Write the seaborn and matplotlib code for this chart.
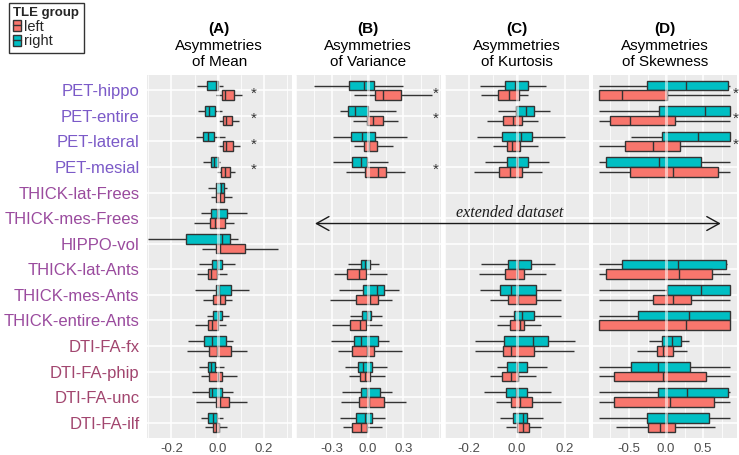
import numpy as np
import pandas as pd
import matplotlib
matplotlib.use("Agg")
import matplotlib.pyplot as plt
import seaborn as sns
from matplotlib.patches import Patch, ConnectionPatch
from matplotlib.lines import Line2D
from matplotlib.ticker import MultipleLocator, FixedLocator

# ---------------- data ----------------
CATEGORIES = ["PET-hippo", "PET-entire", "PET-lateral", "PET-mesial",
              "THICK-lat-Frees", "THICK-mes-Frees", "HIPPO-vol",
              "THICK-lat-Ants", "THICK-mes-Ants", "THICK-entire-Ants",
              "DTI-FA-fx", "DTI-FA-phip", "DTI-FA-unc", "DTI-FA-ilf"]
LABEL_COLORS = ["#7B5AC8"] * 4 + ["#9A4B9E"] * 6 + ["#A2466F"] * 4
GROUPS = ["left", "right"]
GROUP_COLORS = {"left": "#F8766D", "right": "#00BFC4"}
PANEL_LETTERS = ["(A)", "(B)", "(C)", "(D)"]
PANEL_TITLES = ["Asymmetries\nof Mean", "Asymmetries\nof Variance",
                "Asymmetries\nof Kurtosis", "Asymmetries\nof Skewness"]

# five-number summaries per box: (min, q1, median, q3, max)
MEAN_RIGHT = [(-0.088, -0.045, -0.007, 0.000, 0.022), (-0.084, -0.054, -0.036, -0.010, 0.017),
              (-0.095, -0.062, -0.041, -0.017, 0.033), (-0.065, -0.030, -0.016, 0.000, 0.010),
              (-0.042, -0.006, 0.013, 0.029, 0.039), (-0.074, -0.028, -0.002, 0.039, 0.128),
              (-0.300, -0.136, 0.019, 0.053, 0.087), (-0.081, -0.023, -0.004, 0.017, 0.074),
              (-0.100, -0.007, 0.007, 0.059, 0.136), (-0.048, -0.020, 0.000, 0.020, 0.048),
              (-0.130, -0.058, -0.023, 0.037, 0.065), (-0.080, -0.043, -0.028, -0.010, 0.026),
              (-0.110, -0.038, -0.023, 0.017, 0.068), (-0.071, -0.041, -0.022, -0.003, 0.023)]
MEAN_LEFT = [(-0.009, 0.017, 0.032, 0.072, 0.106), (0.007, 0.023, 0.036, 0.062, 0.092),
             (0.001, 0.022, 0.037, 0.068, 0.098), (-0.004, 0.016, 0.033, 0.052, 0.074),
             (-0.029, -0.007, 0.010, 0.026, 0.061), (-0.101, -0.035, -0.012, 0.033, 0.072),
             (-0.067, -0.009, 0.010, 0.119, 0.262), (-0.088, -0.043, -0.030, -0.002, 0.039),
             (-0.064, -0.019, 0.010, 0.030, 0.062), (-0.098, -0.042, -0.023, 0.001, 0.035),
             (-0.133, -0.039, -0.002, 0.056, 0.126), (-0.072, -0.036, 0.001, 0.017, 0.084),
             (-0.094, -0.009, 0.009, 0.050, 0.126), (-0.054, -0.019, -0.006, 0.007, 0.040)]
VAR_RIGHT = [(-0.451, -0.155, -0.029, 0.053, 0.294), (-0.233, -0.163, -0.107, 0.000, 0.238),
             (-0.294, -0.138, -0.050, 0.064, 0.328), (-0.289, -0.129, -0.054, -0.003, 0.168),
             None, None, None,
             (-0.163, -0.059, -0.020, 0.019, 0.095), (-0.239, -0.039, 0.081, 0.134, 0.263),
             (-0.146, -0.048, -0.008, 0.030, 0.123), (-0.311, -0.118, -0.054, 0.089, 0.179),
             (-0.188, -0.079, -0.037, 0.039, 0.162), (-0.218, -0.056, -0.008, 0.106, 0.202),
             (-0.233, -0.098, -0.023, 0.039, 0.143)]
VAR_LEFT = [(-0.113, 0.064, 0.126, 0.277, 0.543), (-0.121, -0.006, 0.047, 0.126, 0.255),
            (-0.113, -0.031, 0.013, 0.081, 0.215), (-0.182, -0.020, 0.089, 0.154, 0.311),
            None, None, None,
            (-0.281, -0.171, -0.071, -0.014, 0.160), (-0.317, -0.096, 0.017, 0.084, 0.204),
            (-0.303, -0.149, -0.062, -0.012, 0.123), (-0.247, -0.129, -0.008, 0.050, 0.288),
            (-0.155, -0.065, -0.023, 0.019, 0.145), (-0.224, -0.073, 0.013, 0.140, 0.322),
            (-0.205, -0.132, -0.054, -0.008, 0.118)]
KURT_RIGHT = [(-0.154, -0.049, -0.007, 0.046, 0.123), (-0.077, -0.003, 0.038, 0.074, 0.140),
              (-0.166, -0.060, 0.017, 0.063, 0.203), (-0.133, -0.042, 0.000, 0.046, 0.134),
              None, None, None,
              (-0.151, -0.037, 0.005, 0.060, 0.158), (-0.154, -0.070, -0.023, 0.080, 0.185),
              (-0.074, -0.011, 0.024, 0.071, 0.185), (-0.175, -0.052, 0.067, 0.131, 0.242),
              (-0.084, -0.039, 0.000, 0.042, 0.126), (-0.136, -0.045, -0.003, 0.042, 0.144),
              (-0.070, -0.014, 0.025, 0.042, 0.109)]
KURT_LEFT = [(-0.151, -0.077, -0.031, 0.008, 0.049), (-0.126, -0.059, -0.017, 0.024, 0.088),
             (-0.098, -0.039, -0.018, 0.015, 0.088), (-0.178, -0.074, -0.028, 0.021, 0.105),
             None, None, None,
             (-0.157, -0.049, 0.000, 0.032, 0.123), (-0.112, -0.037, 0.007, 0.080, 0.186),
             (-0.084, -0.029, 0.014, 0.032, 0.101), (-0.175, -0.056, -0.023, 0.071, 0.238),
             (-0.112, -0.060, -0.025, 0.007, 0.081), (-0.087, -0.025, 0.014, 0.063, 0.185),
             (-0.045, 0.003, 0.025, 0.053, 0.101)]
SKEW_RIGHT = [(-0.90, -0.253, 0.266, 0.842, 0.86), (-0.90, -0.090, 0.523, 0.87, 0.87),
              (-0.477, -0.059, 0.437, 0.87, 0.87), (-0.90, -0.815, -0.090, 0.477, 0.87),
              None, None, None,
              (-0.90, -0.599, 0.158, 0.811, 0.82), (-0.90, 0.018, 0.469, 0.87, 0.87),
              (-0.90, -0.383, 0.315, 0.87, 0.87), (-0.225, -0.050, 0.077, 0.198, 0.306),
              (-0.90, -0.477, -0.104, 0.324, 0.87), (-0.90, -0.104, 0.288, 0.842, 0.87),
              (-0.90, -0.253, 0.009, 0.577, 0.87)]
SKEW_LEFT = [(-0.90, -0.90, -0.590, 0.018, 0.87), (-0.90, -0.757, -0.486, 0.122, 0.87),
             (-0.90, -0.559, -0.171, 0.189, 0.87), (-0.90, -0.486, 0.099, 0.698, 0.87),
             None, None, None,
             (-0.90, -0.815, 0.180, 0.617, 0.87), (-0.90, -0.180, 0.099, 0.333, 0.87),
             (-0.90, -0.90, 0.270, 0.87, 0.87), (-0.387, -0.126, -0.036, 0.090, 0.279),
             (-0.90, -0.698, -0.036, 0.541, 0.87), (-0.90, -0.703, 0.054, 0.649, 0.87),
             (-0.676, -0.239, -0.081, 0.122, 0.662)]

PANEL_DATA = [(MEAN_LEFT, MEAN_RIGHT), (VAR_LEFT, VAR_RIGHT),
              (KURT_LEFT, KURT_RIGHT), (SKEW_LEFT, SKEW_RIGHT)]
XTICKS = [[-0.2, 0.0, 0.2], [-0.3, 0.0, 0.3], [-0.2, 0.0, 0.2], [-0.5, 0.0, 0.5]]
XTICK_LABELS = [["-0.2", "0.0", "0.2"], ["-0.3", "0.0", "0.3"],
                ["-0.2", "0.0", "0.2"], ["-0.5", "0.0", "0.5"]]
XLIMS = [(-0.308, 0.322), (-0.603, 0.612), (-0.300, 0.300), (-0.993, 0.959)]
# significant rows (asterisks) per panel
STAR_ROWS = [["PET-hippo", "PET-entire", "PET-lateral", "PET-mesial"],
             ["PET-hippo", "PET-entire", "PET-mesial"],
             [],
             ["PET-hippo", "PET-entire", "PET-lateral"]]
STAR_X = [0.158, 0.569, None, 0.936]

# ---------------- style ----------------
sns.set_theme(style="darkgrid")
plt.rcParams["font.family"] = ["Liberation Sans", "DejaVu Sans"]

W, H = 739, 455
fig = plt.figure(figsize=(W / 100, H / 100), dpi=100)
fig.patch.set_facecolor("white")

PANEL_X = [(146.5, 292.0), (296.0, 440.5), (445.0, 588.5), (592.5, 737.0)]
TOP, BOT = 75.0, 438.0

axes = []
for p, ((x0, x1), (left, right)) in enumerate(zip(PANEL_X, PANEL_DATA)):
    ax = fig.add_axes([x0 / W, (H - BOT) / H, (x1 - x0) / W, (BOT - TOP) / H])
    axes.append(ax)
    recs = []
    for cat, sl, sr in zip(CATEGORIES, left, right):
        for grp, s in (("left", sl), ("right", sr)):
            if s is None:
                continue
            for v in s:
                recs.append({"measure": cat, "group": grp, "value": v})
    df = pd.DataFrame(recs)
    sns.boxplot(data=df, x="value", y="measure", hue="group", order=CATEGORIES,
                hue_order=["right", "left"], palette=GROUP_COLORS, orient="h",
                whis=(0, 100), width=0.75, gap=0, showcaps=False,
                linecolor="#333333", linewidth=1.0, saturation=1, fliersize=0,
                legend=False, ax=ax)
    ax.set_facecolor("#EBEBEB")
    for s in ax.spines.values():
        s.set_visible(False)
    ax.set_xlim(*XLIMS[p])
    ax.set_ylim(len(CATEGORIES) - 0.4, -0.6)
    ax.xaxis.set_major_locator(FixedLocator(XTICKS[p]))
    ax.set_xticklabels(XTICK_LABELS[p])
    step = XTICKS[p][1] - XTICKS[p][0]
    ax.xaxis.set_minor_locator(MultipleLocator(step / 2))
    ax.set_axisbelow(True)
    ax.grid(True, which="major", axis="both", color="white", lw=1.1)
    ax.grid(True, which="minor", axis="x", color="white", lw=0.55)
    ax.axvline(0, color="white", lw=2.2, alpha=0.55, zorder=6)
    ax.set_xlabel("")
    ax.set_ylabel("")
    ax.tick_params(axis="x", which="major", length=2.5, width=0.8, color="#333333",
                   labelsize=9.5, labelcolor="#4D4D4D", pad=0.8)
    ax.tick_params(axis="x", which="minor", length=0)
    if p == 0:
        ax.tick_params(axis="y", length=3, width=0.8, color="#333333",
                       labelsize=12, pad=2)
        for lab, col in zip(ax.get_yticklabels(), LABEL_COLORS):
            lab.set_color(col)
    else:
        ax.tick_params(axis="y", length=0, labelleft=False)
    # titles
    ax.annotate(PANEL_LETTERS[p], (0.5, 1), xycoords="axes fraction",
                xytext=(0, 46), textcoords="offset pixels", ha="center",
                va="center", fontsize=11, fontweight="bold", color="black")
    t1, t2 = PANEL_TITLES[p].split("\n")
    ax.annotate(t1, (0.5, 1), xycoords="axes fraction", xytext=(0, 29),
                textcoords="offset pixels", ha="center", va="center",
                fontsize=11, color="black")
    ax.annotate(t2, (0.5, 1), xycoords="axes fraction", xytext=(0, 13),
                textcoords="offset pixels", ha="center", va="center",
                fontsize=11, color="black")
    # significance asterisks
    for cat in STAR_ROWS[p]:
        ax.text(STAR_X[p], CATEGORIES.index(cat) + 0.12, "*", ha="center",
                va="center", fontsize=11, color="#333333", zorder=7)

# extended dataset arrow across panels B-D
axB, axC, axD = axes[1], axes[2], axes[3]
arrow_row = CATEGORIES.index("THICK-mes-Frees") + 0.21
con = ConnectionPatch(xyA=(-0.443, arrow_row), coordsA=axB.transData,
                      xyB=(0.739, arrow_row), coordsB=axD.transData,
                      arrowstyle="<->,head_length=0.45,head_width=0.25",
                      mutation_scale=20, lw=1.0, color="#1a1a1a", zorder=10)
fig.add_artist(con)
axC.text(-0.028, arrow_row - 0.40, "extended dataset", ha="center", va="center",
         fontsize=11.5, style="italic", family=["Liberation Serif", "DejaVu Serif"],
         color="#1a1a1a", zorder=10)

# legend (mini boxplot keys)
handles = [(Patch(facecolor=GROUP_COLORS[g], edgecolor="#333333", lw=1.0),
            Line2D([], [], color="#333333", lw=1.0)) for g in GROUPS]
leg = fig.legend(handles=handles, labels=GROUPS, title="TLE group", loc="upper left",
                 bbox_to_anchor=(9 / W, 1 - 2.5 / H), fontsize=10.5,
                 title_fontproperties={"weight": "bold", "size": 9.5},
                 handlelength=0.55, handleheight=0.8, handletextpad=0.15,
                 labelspacing=0.05, borderpad=0.3, borderaxespad=0,
                 frameon=True, fancybox=False, alignment="left")
frame = leg.get_frame()
frame.set_edgecolor("#333333")
frame.set_facecolor("white")
frame.set_alpha(1)
frame.set_linewidth(1.0)

fig.savefig("out.png", dpi=100, facecolor="white")
